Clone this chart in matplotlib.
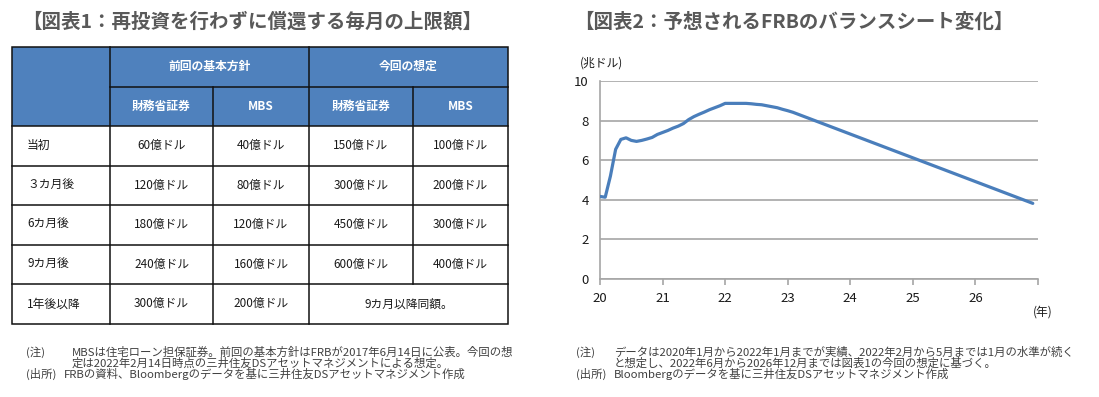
import matplotlib.pyplot as plt
from matplotlib.patches import Rectangle

plt.rcParams['font.family'] = ['Noto Sans CJK JP', 'DejaVu Sans']

# --- table data (図表1) ---
row_labels = ["当初", "３カ月後", "6カ月後", "9カ月後", "1年後以降"]
group_labels = ["前回の基本方針", "今回の想定"]
sub_labels = ["財務省証券", "MBS", "財務省証券", "MBS"]
prev_treasury = [60, 120, 180, 240, 300]
prev_mbs = [40, 80, 120, 160, 200]
new_treasury = [150, 300, 450, 600]
new_mbs = [100, 200, 300, 400]
new_after = "9カ月以降同額。"

# --- FRB balance sheet, monthly Jan 2020 - Dec 2026 (兆ドル) ---
balance = [
    4.17, 4.13, 5.20, 6.55, 7.05, 7.13, 7.00, 6.95, 7.00, 7.07, 7.15, 7.30,
    7.40, 7.50, 7.62, 7.72, 7.85, 8.05, 8.20, 8.32, 8.43, 8.55, 8.65, 8.75,
    8.87, 8.87, 8.87, 8.87, 8.87, 8.85, 8.82, 8.80, 8.75, 8.70, 8.65, 8.57,
    8.50, 8.42, 8.32, 8.22, 8.12, 8.02, 7.92, 7.82, 7.72, 7.62, 7.52, 7.42,
    7.32, 7.22, 7.12, 7.02, 6.92, 6.82, 6.72, 6.62, 6.52, 6.42, 6.32, 6.22,
    6.12, 6.02, 5.92, 5.82, 5.72, 5.62, 5.52, 5.42, 5.32, 5.22, 5.12, 5.02,
    4.92, 4.82, 4.72, 4.62, 4.52, 4.42, 4.32, 4.22, 4.12, 4.02, 3.92, 3.82,
]
start_year = 2020
year_ticks = [2020, 2021, 2022, 2023, 2024, 2025, 2026, 2027]
year_labels = ["20", "21", "22", "23", "24", "25", "26", ""]
y_ticks = [0, 2, 4, 6, 8, 10]

W, H = 1099, 397
fig = plt.figure(figsize=(W / 100, H / 100), dpi=100)

# background axes in pixel coords for the table and texts
bg = fig.add_axes([0, 0, 1, 1])
bg.set_xlim(0, W)
bg.set_ylim(H, 0)
bg.axis('off')

title_color = '#595959'
note_color = '#404040'
blue = '#4f81bd'

bg.text(252, 22, "【図表1：再投資を行わずに償還する毎月の上限額】", fontsize=14,
        fontweight='bold', color=title_color, ha='center', va='center')
bg.text(794, 22, "【図表2：予想されるFRBのバランスシート変化】", fontsize=14,
        fontweight='bold', color=title_color, ha='center', va='center')

# table geometry
col_x = [12, 110, 213, 309, 413, 508]
top = 47
rh = 39.5
row_y = [top + i * rh for i in range(8)]

bg.add_patch(Rectangle((col_x[0], row_y[0]), col_x[-1] - col_x[0], 2 * rh,
                       facecolor=blue, edgecolor='none'))
lw = 1.1
lc = '#111111'
# outer box
bg.add_patch(Rectangle((col_x[0], row_y[0]), col_x[-1] - col_x[0], row_y[7] - row_y[0],
                       facecolor='none', edgecolor=lc, lw=lw))
# horizontal lines
bg.plot([col_x[1], col_x[-1]], [row_y[1]] * 2, color=lc, lw=lw)
for y in row_y[2:7]:
    bg.plot([col_x[0], col_x[-1]], [y] * 2, color=lc, lw=lw)
# vertical lines
for x in [col_x[1], col_x[3]]:
    bg.plot([x, x], [row_y[0], row_y[7]], color=lc, lw=lw)
bg.plot([col_x[2], col_x[2]], [row_y[1], row_y[7]], color=lc, lw=lw)
bg.plot([col_x[4], col_x[4]], [row_y[1], row_y[6]], color=lc, lw=lw)

cx = [(col_x[i] + col_x[i + 1]) / 2 for i in range(5)]
fs = 8.5
for i, g in enumerate(group_labels):
    bg.text((col_x[1 + 2 * i] + col_x[3 + 2 * i]) / 2, row_y[0] + rh / 2, g,
            color='white', fontweight='bold', fontsize=fs, ha='center', va='center')
for i, s in enumerate(sub_labels):
    bg.text(cx[i + 1], row_y[1] + rh / 2, s, color='white', fontweight='bold',
            fontsize=fs, ha='center', va='center')

for r, lab in enumerate(row_labels):
    yc = row_y[2 + r] + rh / 2
    bg.text(27, yc, lab, fontsize=fs, ha='left', va='center', color='#1a1a1a')
    bg.text(cx[1], yc, f"{prev_treasury[r]}億ドル", fontsize=fs, ha='center', va='center', color='#1a1a1a')
    bg.text(cx[2], yc, f"{prev_mbs[r]}億ドル", fontsize=fs, ha='center', va='center', color='#1a1a1a')
    if r < len(new_treasury):
        bg.text(cx[3], yc, f"{new_treasury[r]}億ドル", fontsize=fs, ha='center', va='center', color='#1a1a1a')
        bg.text(cx[4], yc, f"{new_mbs[r]}億ドル", fontsize=fs, ha='center', va='center', color='#1a1a1a')
    else:
        bg.text((col_x[3] + col_x[5]) / 2, yc, new_after, fontsize=fs, ha='center',
                va='center', color='#1a1a1a')

# notes
nfs = 8.2
ny = [352.0, 363.0, 374.0]
bg.text(26, ny[0], "(注)", fontsize=nfs, color=note_color, va='center')
bg.text(72, ny[0], "MBSは住宅ローン担保証券。前回の基本方針はFRBが2017年6月14日に公表。今回の想",
        fontsize=nfs, color=note_color, va='center')
bg.text(72, ny[1], "定は2022年2月14日時点の三井住友DSアセットマネジメントによる想定。",
        fontsize=nfs, color=note_color, va='center')
bg.text(26, ny[2], "(出所)", fontsize=nfs, color=note_color, va='center')
bg.text(64, ny[2], "FRBの資料、Bloombergのデータを基に三井住友DSアセットマネジメント作成",
        fontsize=nfs, color=note_color, va='center')

bg.text(576, ny[0], "(注)", fontsize=nfs, color=note_color, va='center')
bg.text(614, ny[0], "データは2020年1月から2022年1月までが実績、2022年2月から5月までは1月の水準が続く",
        fontsize=nfs, color=note_color, va='center')
bg.text(614, ny[1], "と想定し、2022年6月から2026年12月までは図表1の今回の想定に基づく。",
        fontsize=nfs, color=note_color, va='center')
bg.text(576, ny[2], "(出所)", fontsize=nfs, color=note_color, va='center')
bg.text(614, ny[2], "Bloombergのデータを基に三井住友DSアセットマネジメント作成",
        fontsize=nfs, color=note_color, va='center')

# --- line chart ---
ax = fig.add_axes([600 / W, 1 - 279 / H, (1038 - 600) / W, (279 - 81) / H])
x = [start_year + i / 12 for i in range(len(balance))]
ax.plot(x, balance, color='#4a7ebb', lw=2.3, solid_capstyle='round', zorder=3)
ax.set_xlim(year_ticks[0], year_ticks[-1])
ax.set_ylim(0, 10)
ax.set_yticks(y_ticks)
ax.set_xticks(year_ticks)
ax.set_xticklabels(year_labels)
grid_c = '#a6a6a6'
ax.grid(axis='y', color=grid_c, lw=1.2)
ax.set_axisbelow(True)
for s in ['top', 'right']:
    ax.spines[s].set_visible(False)
for s in ['left', 'bottom']:
    ax.spines[s].set_color(grid_c)
    ax.spines[s].set_linewidth(1.2)
ax.tick_params(axis='y', length=0, pad=8, labelsize=9.5, labelcolor='#1a1a1a')
ax.tick_params(axis='x', length=4, color=grid_c, width=1.2, pad=5, labelsize=9.5,
               labelcolor='#1a1a1a')
ax.patch.set_alpha(0)

bg.text(580, 63, "(兆ドル)", fontsize=8.5, color='#1a1a1a', va='center', ha='left')
bg.text(1033, 312, "(年)", fontsize=8.5, color='#1a1a1a', va='center', ha='left')

fig.savefig('out.png', dpi=100)
